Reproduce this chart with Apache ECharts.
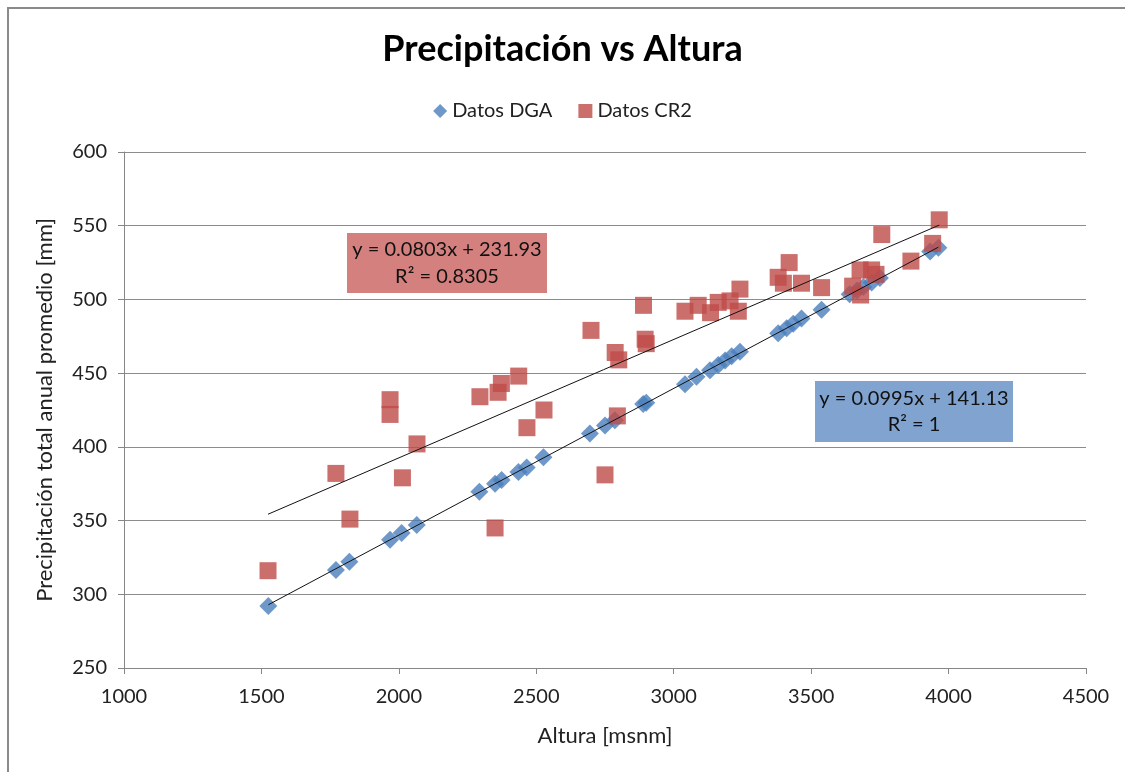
<!DOCTYPE html>
<html>
<head>
<meta charset="utf-8">
<script src="https://cdn.jsdelivr.net/npm/echarts@6/dist/echarts.min.js"></script>
<style>
  html, body { margin: 0; padding: 0; background: #fff; }
  #chart { width: 1125px; height: 772px; }
</style>
</head>
<body>
<div id="chart"></div>
<script>
  // Datos DGA (altura msnm, precipitación mm)
  const dgaAltura = [1525, 1771, 1820, 1968, 2010, 2065, 2293, 2350, 2374, 2435, 2465, 2526,
    2695, 2750, 2786, 2889, 2900, 3041, 3083, 3132, 3162, 3187, 3211, 3241, 3380, 3411,
    3435, 3465, 3538, 3640, 3667, 3690, 3720, 3750, 3933, 3963];
  const dgaPrecip = [292, 316.5, 322, 337, 341.5, 347, 369.5, 375, 377.5, 383, 386, 393,
    409, 414.5, 418, 429, 430, 442.5, 447.5, 452, 455.5, 458.5, 461.5, 464.5, 477, 480.5,
    483.5, 487, 493, 503.5, 506, 508.5, 511.5, 514.5, 532.5, 535];

  // Datos CR2
  const cr2Altura = [1524, 1771, 1822, 1968, 1968, 2013, 2066, 2295, 2350, 2361, 2373, 2436,
    2466, 2528, 2699, 2750, 2787, 2795, 2800, 2890, 2896, 2900, 3041, 3089, 3134, 3162,
    3205, 3235, 3241, 3380, 3399, 3420, 3465, 3538, 3651, 3678, 3680, 3720, 3736, 3757,
    3863, 3942, 3966];
  const cr2Precip = [316, 382, 351, 432, 422, 379, 402, 434, 345, 437, 443, 448,
    413, 425, 479, 381, 464, 421, 459, 496, 473, 470, 492, 496, 491, 498,
    499, 492, 507, 515, 511, 525, 511, 508, 509, 520, 503, 520, 517, 544,
    526, 538, 554];

  // ecuaciones de tendencia mostradas en el gráfico
  const trendDGA = { slope: 0.0995, intercept: 141.13, eq: 'y = 0.0995x + 141.13', r2: 'R² = 1' };
  const trendCR2 = { slope: 0.0803, intercept: 231.93, eq: 'y = 0.0803x + 231.93', r2: 'R² = 0.8305' };

  const xTicks = [1000, 1500, 2000, 2500, 3000, 3500, 4000, 4500];
  const yTicks = [250, 300, 350, 400, 450, 500, 550, 600];

  function zip(xs, ys) {
    return xs.map((x, i) => [x, ys[i]]);
  }
  function trendLine(xs, t) {
    let lo = Math.min(...xs), hi = Math.max(...xs);
    return [[lo, t.slope * lo + t.intercept], [hi, t.slope * hi + t.intercept]];
  }

  const font = 'Lato, "Open Sans", sans-serif';
  const myChart = echarts.init(document.getElementById('chart'));

  const option = {
    backgroundColor: '#fff',
    animation: false,
    title: {
      text: 'Precipitación vs Altura',
      left: 'center',
      top: 26,
      textStyle: { fontFamily: font, fontSize: 36, fontWeight: 'bold', color: '#000' }
    },
    legend: {
      top: 96,
      left: 'center',
      itemGap: 26,
      itemWidth: 14,
      itemHeight: 14,
      textStyle: { fontFamily: font, fontSize: 20, color: '#222' },
      data: ['Datos DGA', 'Datos CR2']
    },
    grid: { left: 124, right: 39, top: 152, bottom: 104 },
    xAxis: {
      type: 'value',
      min: xTicks[0],
      max: xTicks[xTicks.length - 1],
      interval: 500,
      name: 'Altura [msnm]',
      nameLocation: 'middle',
      nameGap: 57,
      nameTextStyle: { fontFamily: font, fontSize: 22, color: '#222' },
      axisLine: { show: true, lineStyle: { color: '#868686' } },
      axisTick: { show: true, length: 6, lineStyle: { color: '#868686' } },
      axisLabel: { fontFamily: font, fontSize: 20, color: '#222', margin: 19, formatter: v => String(v) },
      splitLine: { show: false }
    },
    yAxis: {
      type: 'value',
      min: yTicks[0],
      max: yTicks[yTicks.length - 1],
      interval: 50,
      name: 'Precipitación total anual promedio [mm]',
      nameLocation: 'middle',
      nameGap: 68,
      nameTextStyle: { fontFamily: font, fontSize: 22, color: '#222' },
      axisLine: { show: true, lineStyle: { color: '#868686' } },
      axisTick: { show: true, length: 6, lineStyle: { color: '#868686' } },
      axisLabel: { fontFamily: font, fontSize: 20, color: '#222', margin: 17 },
      splitLine: { show: true, lineStyle: { color: '#8c8c8c', width: 1 } }
    },
    graphic: [
      {
        type: 'rect',
        silent: true,
        shape: { x: 8, y: 8, width: 1200, height: 900 },
        style: { fill: 'none', stroke: '#8a8a8a', lineWidth: 2 }
      },
      {
        type: 'group',
        left: 347,
        top: 233,
        children: [
          { type: 'rect', shape: { x: 0, y: 0, width: 200, height: 60 }, style: { fill: '#d4807e' } },
          { type: 'text', x: 100, y: 17, style: { text: trendCR2.eq, fill: '#111', font: '20px ' + font, align: 'center', verticalAlign: 'middle' } },
          { type: 'text', x: 100, y: 44, style: { text: trendCR2.r2, fill: '#111', font: '20px ' + font, align: 'center', verticalAlign: 'middle' } }
        ]
      },
      {
        type: 'group',
        left: 815,
        top: 381,
        children: [
          { type: 'rect', shape: { x: 0, y: 0, width: 198, height: 61 }, style: { fill: '#80a3d0' } },
          { type: 'text', x: 99, y: 18, style: { text: trendDGA.eq, fill: '#111', font: '20px ' + font, align: 'center', verticalAlign: 'middle' } },
          { type: 'text', x: 99, y: 44, style: { text: trendDGA.r2, fill: '#111', font: '20px ' + font, align: 'center', verticalAlign: 'middle' } }
        ]
      }
    ],
    series: [
      {
        name: 'Datos DGA',
        type: 'scatter',
        symbol: 'diamond',
        symbolSize: 18,
        itemStyle: { color: '#4a7ebb' },
        data: zip(dgaAltura, dgaPrecip),
        z: 2
      },
      {
        name: 'Datos CR2',
        type: 'scatter',
        symbol: 'rect',
        symbolSize: 17,
        itemStyle: { color: '#be4b48' },
        data: zip(cr2Altura, cr2Precip),
        z: 3
      },
      {
        name: 'Tendencia DGA',
        type: 'line',
        symbol: 'none',
        lineStyle: { color: '#111', width: 1 },
        data: trendLine(dgaAltura, trendDGA),
        z: 4
      },
      {
        name: 'Tendencia CR2',
        type: 'line',
        symbol: 'none',
        lineStyle: { color: '#111', width: 1 },
        data: trendLine(cr2Altura, trendCR2),
        z: 4
      }
    ]
  };
  myChart.setOption(option);
</script>
</body>
</html>
